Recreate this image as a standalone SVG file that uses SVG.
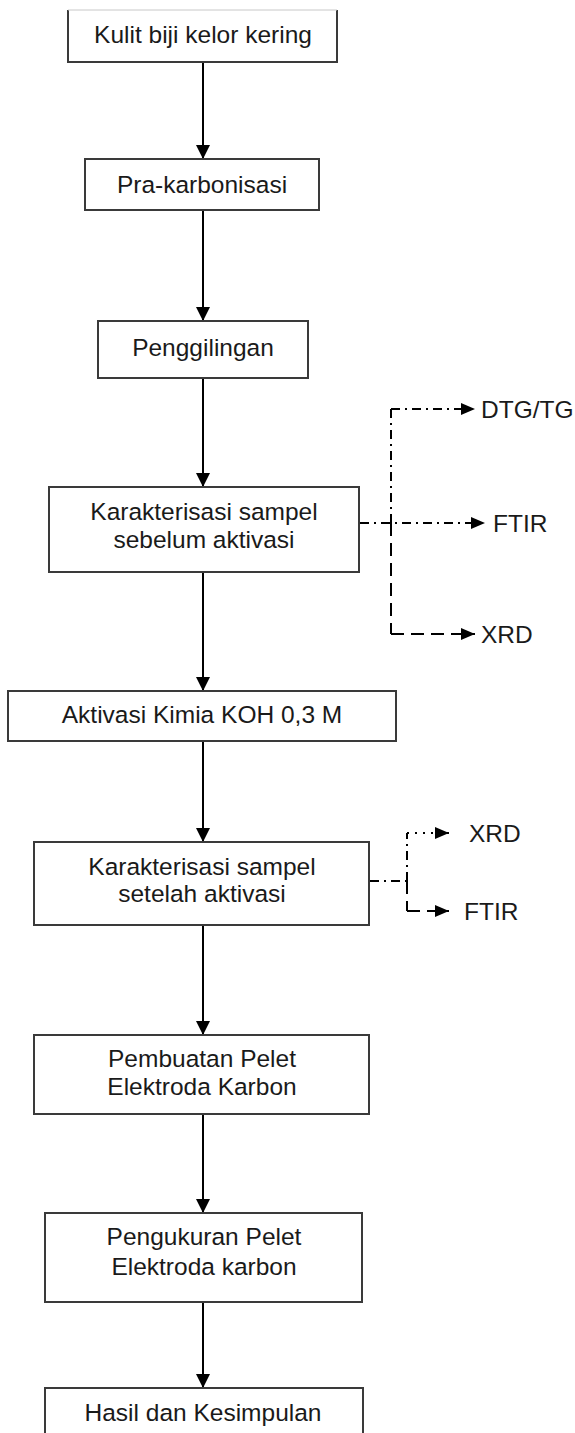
<svg xmlns="http://www.w3.org/2000/svg" width="575" height="1433" viewBox="0 0 575 1433">
<style>
.box{fill:#fff;stroke:#3a3a3a;stroke-width:2}
.t{font-family:"Liberation Sans",Arial,sans-serif;font-size:24.5px;fill:#1a1a1a;text-anchor:middle}
.l{font-family:"Liberation Sans",Arial,sans-serif;font-size:24.5px;fill:#1a1a1a}
.c{stroke:#000;stroke-width:2;fill:none}
.dd{stroke:#000;stroke-width:2;fill:none;stroke-dasharray:9 5 2 5}
.ds{stroke:#000;stroke-width:2;fill:none;stroke-dasharray:13 7}
.dt{stroke:#000;stroke-width:2;fill:none;stroke-dasharray:2 6}
</style>
<defs>
<marker id="ah" markerUnits="userSpaceOnUse" markerWidth="14" markerHeight="14" refX="14" refY="7" orient="auto"><path d="M0,0 L14,7 L0,14 z" fill="#000"/></marker>
<marker id="as" markerUnits="userSpaceOnUse" markerWidth="14" markerHeight="12" refX="14" refY="6" orient="auto"><path d="M0,0 L14,6 L0,12 z" fill="#000"/></marker>
</defs>
<rect width="575" height="1433" fill="#fff"/>
<g id="connectors">
<line class="c" x1="203" y1="62" x2="203" y2="159" marker-end="url(#ah)"/>
<line class="c" x1="203" y1="210" x2="203" y2="321" marker-end="url(#ah)"/>
<line class="c" x1="203" y1="378" x2="203" y2="487" marker-end="url(#ah)"/>
<line class="c" x1="203" y1="572" x2="203" y2="691" marker-end="url(#ah)"/>
<line class="c" x1="203" y1="741" x2="203" y2="842" marker-end="url(#ah)"/>
<line class="c" x1="203" y1="925" x2="203" y2="1035" marker-end="url(#ah)"/>
<line class="c" x1="203" y1="1114" x2="203" y2="1213" marker-end="url(#ah)"/>
<line class="c" x1="203" y1="1302" x2="203" y2="1388" marker-end="url(#ah)"/>
<line class="dd" x1="360" y1="523" x2="485" y2="523" marker-end="url(#as)"/>
<line class="dd" x1="391" y1="523" x2="391" y2="409"/>
<line class="dd" x1="391" y1="409" x2="475" y2="409" marker-end="url(#as)"/>
<line class="ds" x1="391" y1="523" x2="391" y2="634"/>
<line class="ds" x1="391" y1="634" x2="475" y2="634" marker-end="url(#as)"/>
<line class="dd" x1="370" y1="881" x2="407" y2="881"/>
<line class="dd" x1="407" y1="881" x2="407" y2="833"/>
<line class="dt" x1="407" y1="833" x2="449" y2="833" marker-end="url(#as)"/>
<line class="ds" x1="407" y1="881" x2="407" y2="911"/>
<line class="ds" x1="407" y1="911" x2="449" y2="911" marker-end="url(#as)"/>
</g>
<g id="n1">
<path class="box" d="M68,10 L68,62 L337,62 L337,10"/>
<line x1="68" y1="10" x2="337" y2="10" stroke="#c8c8c8" stroke-width="1"/>
<text class="t" x="203" y="43">Kulit biji kelor kering</text>
</g>
<g id="n2"><rect class="box" x="85" y="159" width="234" height="51"/><text class="t" x="202" y="193">Pra-karbonisasi</text></g>
<g id="n3"><rect class="box" x="98" y="321" width="210" height="57"/><text class="t" x="203" y="356">Penggilingan</text></g>
<g id="n4"><rect class="box" x="49" y="487" width="310" height="85"/><text class="t" x="204" y="520">Karakterisasi sampel</text><text class="t" x="204" y="548">sebelum aktivasi</text></g>
<g id="n5"><rect class="box" x="8" y="691" width="388" height="50"/><text class="t" x="202" y="723">Aktivasi Kimia KOH 0,3 M</text></g>
<g id="n6"><rect class="box" x="34" y="842" width="335" height="83"/><text class="t" x="202" y="875">Karakterisasi sampel</text><text class="t" x="202" y="902">setelah aktivasi</text></g>
<g id="n7"><rect class="box" x="34" y="1035" width="335" height="79"/><text class="t" x="202" y="1067">Pembuatan Pelet</text><text class="t" x="202" y="1095">Elektroda Karbon</text></g>
<g id="n8"><rect class="box" x="45" y="1213" width="317" height="89"/><text class="t" x="204" y="1245">Pengukuran Pelet</text><text class="t" x="204" y="1275">Elektroda karbon</text></g>
<g id="n9"><rect class="box" x="45" y="1388" width="318" height="60"/><text class="t" x="203" y="1421">Hasil dan Kesimpulan</text></g>
<g id="labels">
<text class="l" x="481" y="418">DTG/TG</text>
<text class="l" x="493" y="532">FTIR</text>
<text class="l" x="481" y="643">XRD</text>
<text class="l" x="469" y="842">XRD</text>
<text class="l" x="464" y="920">FTIR</text>
</g>
</svg>
